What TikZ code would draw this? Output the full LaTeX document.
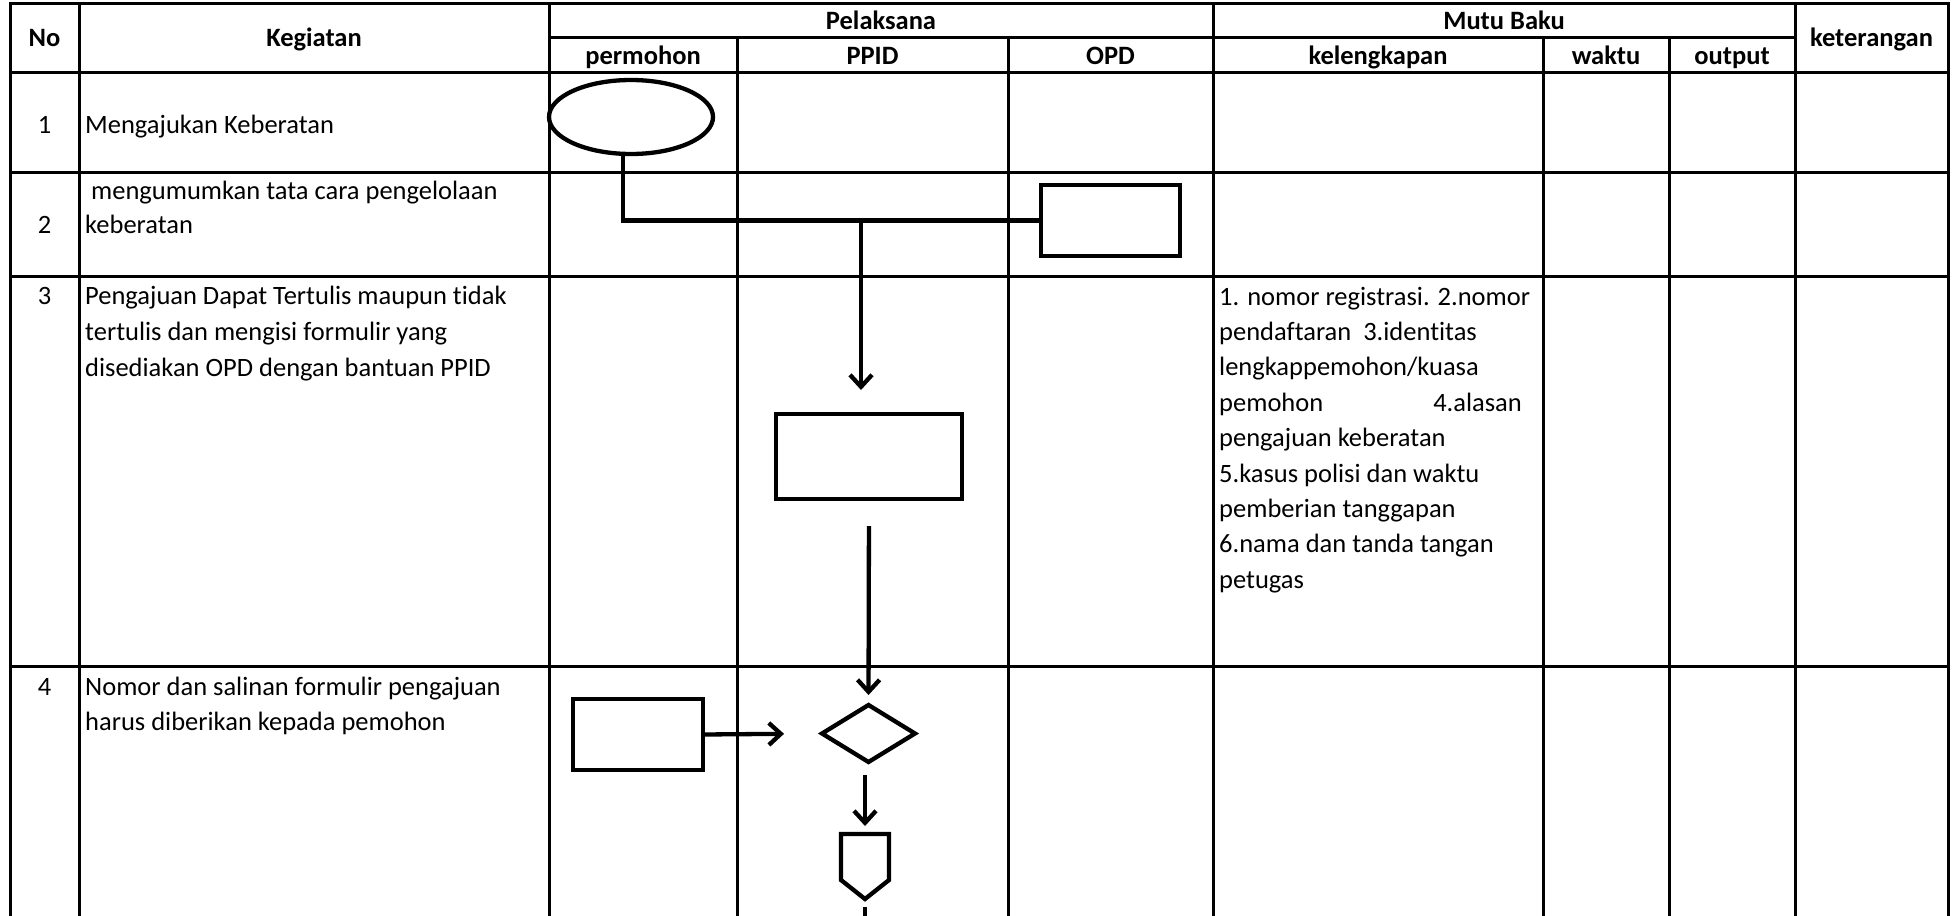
\documentclass[tikz,border=0pt]{standalone}
\usepackage{fontspec}
\setmainfont{Carlito}[Ligatures=NoCommon]
\usetikzlibrary{arrows.meta,shapes.geometric}
\newcommand\cellfont{\fontsize{26.5pt}{35.4pt}\selectfont}
\begin{document}
\begin{tikzpicture}[x=1pt,y=-1pt,
  grid/.style={line width=3pt, line cap=rect},
  shp/.style={draw, line width=4.3pt, fill=white, inner sep=0pt, outer sep=0pt},
  conn/.style={line width=4.3pt},
  arr/.style={line width=4.3pt, -{Straight Barb[length=12pt,width=22pt]}},
  hdr/.style={font=\cellfont\bfseries, anchor=base, inner sep=0pt},
  txt/.style={font=\cellfont, anchor=base west, inner sep=0pt},
  num/.style={font=\cellfont, anchor=base, inner sep=0pt}]
\fill[white] (0,0) rectangle (1958,915);
\useasboundingbox (0,0) rectangle (1958,915);

% table grid
\draw[grid] (10,3.5) -- (1948,3.5);
\draw[grid] (549,38) -- (1795,38);
\foreach \y in {73,172,276,666} \draw[grid] (10,\y) -- (1948,\y);
\foreach \x in {10,79,549,1213,1795,1948} \draw[grid] (\x,3.5) -- (\x,915);
\foreach \x in {737,1008,1543,1669} \draw[grid] (\x,38) -- (\x,915);

% header
\node[hdr] (hNo) at (44.5,46.5) {No};
\node[hdr] (hKeg) at (314,46.5) {Kegiatan};
\node[hdr] (hPel) at (881,30) {Pelaksana};
\node[hdr] (hPem) at (643,65) {permohon};
\node[hdr] (hPPID) at (872.5,65) {PPID};
\node[hdr] (hOPD) at (1110.5,65) {OPD};
\node[hdr] (hMutu) at (1504,30) {Mutu Baku};
\node[hdr] (hKel) at (1378,65) {kelengkapan};
\node[hdr] (hWak) at (1606,65) {waktu};
\node[hdr] (hOut) at (1732,65) {output};
\node[hdr] (hKet) at (1871.5,46.5) {keterangan};

% body text
\node[num] (n1) at (44.5,133) {1};
\node[txt] (t1) at (85,133) {Mengajukan Keberatan};
\node[num] (n2) at (44.5,233) {2};
\node[txt] (t2a) at (85,199) {\ mengumumkan tata cara pengelolaan};
\node[txt] (t2b) at (85,233) {keberatan};
\node[num] (n3) at (44.5,304) {3};
\node[txt] (t3a) at (85,304) {Pengajuan Dapat Tertulis maupun tidak};
\node[txt] (t3b) at (85,340) {tertulis dan mengisi formulir yang};
\node[txt] (t3c) at (85,376) {disediakan OPD dengan bantuan PPID};
\node[num] (n4) at (44.5,695) {4};
\node[txt] (t4a) at (85,695) {Nomor dan salinan formulir pengajuan};
\node[txt] (t4b) at (85,730.5) {harus diberikan kepada pemohon};

\node[txt] (k1) at (1219,305) {1. nomor registrasi. 2.nomor};
\node[txt] (k2) at (1219,340.4) {pendaftaran\ \ 3.identitas};
\node[txt] (k3) at (1219,375.8) {lengkappemohon/kuasa};
\node[txt] (k4a) at (1219,411.2) {pemohon};
\node[txt, anchor=base east] (k4b) at (1522,411.2) {4.alasan};
\node[txt] (k5) at (1219,446.6) {pengajuan keberatan};
\node[txt] (k6) at (1219,482) {5.kasus polisi dan waktu};
\node[txt] (k7) at (1219,517.4) {pemberian tanggapan};
\node[txt] (k8) at (1219,552.8) {6.nama dan tanda tangan};
\node[txt] (k9) at (1219,588.2) {petugas};

% flow shapes
\node[shp, ellipse, minimum width=164pt, minimum height=74pt] (e1) at (631,117) {};
\node[shp, rectangle, minimum width=139pt, minimum height=71pt] (b2) at (1110.5,220.5) {};
\node[shp, rectangle, minimum width=186pt, minimum height=85pt] (r3) at (869,456.5) {};
\node[shp, rectangle, minimum width=130pt, minimum height=71pt] (r4) at (638,734.5) {};
\node[shp, diamond, aspect=1.63, minimum width=93pt, minimum height=57pt] (d4) at (868.5,733.5) {};
\coordinate (opn) at (865,834);
\coordinate (ops) at (865,899);
\draw[conn, fill=white, line join=miter] (841,834) -- (889,834) -- (889,880) -- (ops) -- (841,880) -- cycle;

% connectors
\draw[conn] ([xshift=-8pt]e1.south) |- (b2.west);
\coordinate (j1) at (861,220.5);
\draw[arr, shorten >=24pt] (j1) -- (j1 |- r3.north);
\draw[arr, shorten <=27pt, shorten >=10pt] (r3.south) -- (d4.north);
\draw[arr, shorten >=38pt] (r4.east) -- (d4.west);
\draw[arr, shorten <=13pt, shorten >=8pt] (opn |- d4.south) -- (opn);
\coordinate (opb) at (865,925);
\draw[conn, shorten <=8pt] (ops) -- (opb);
\end{tikzpicture}
\end{document}
